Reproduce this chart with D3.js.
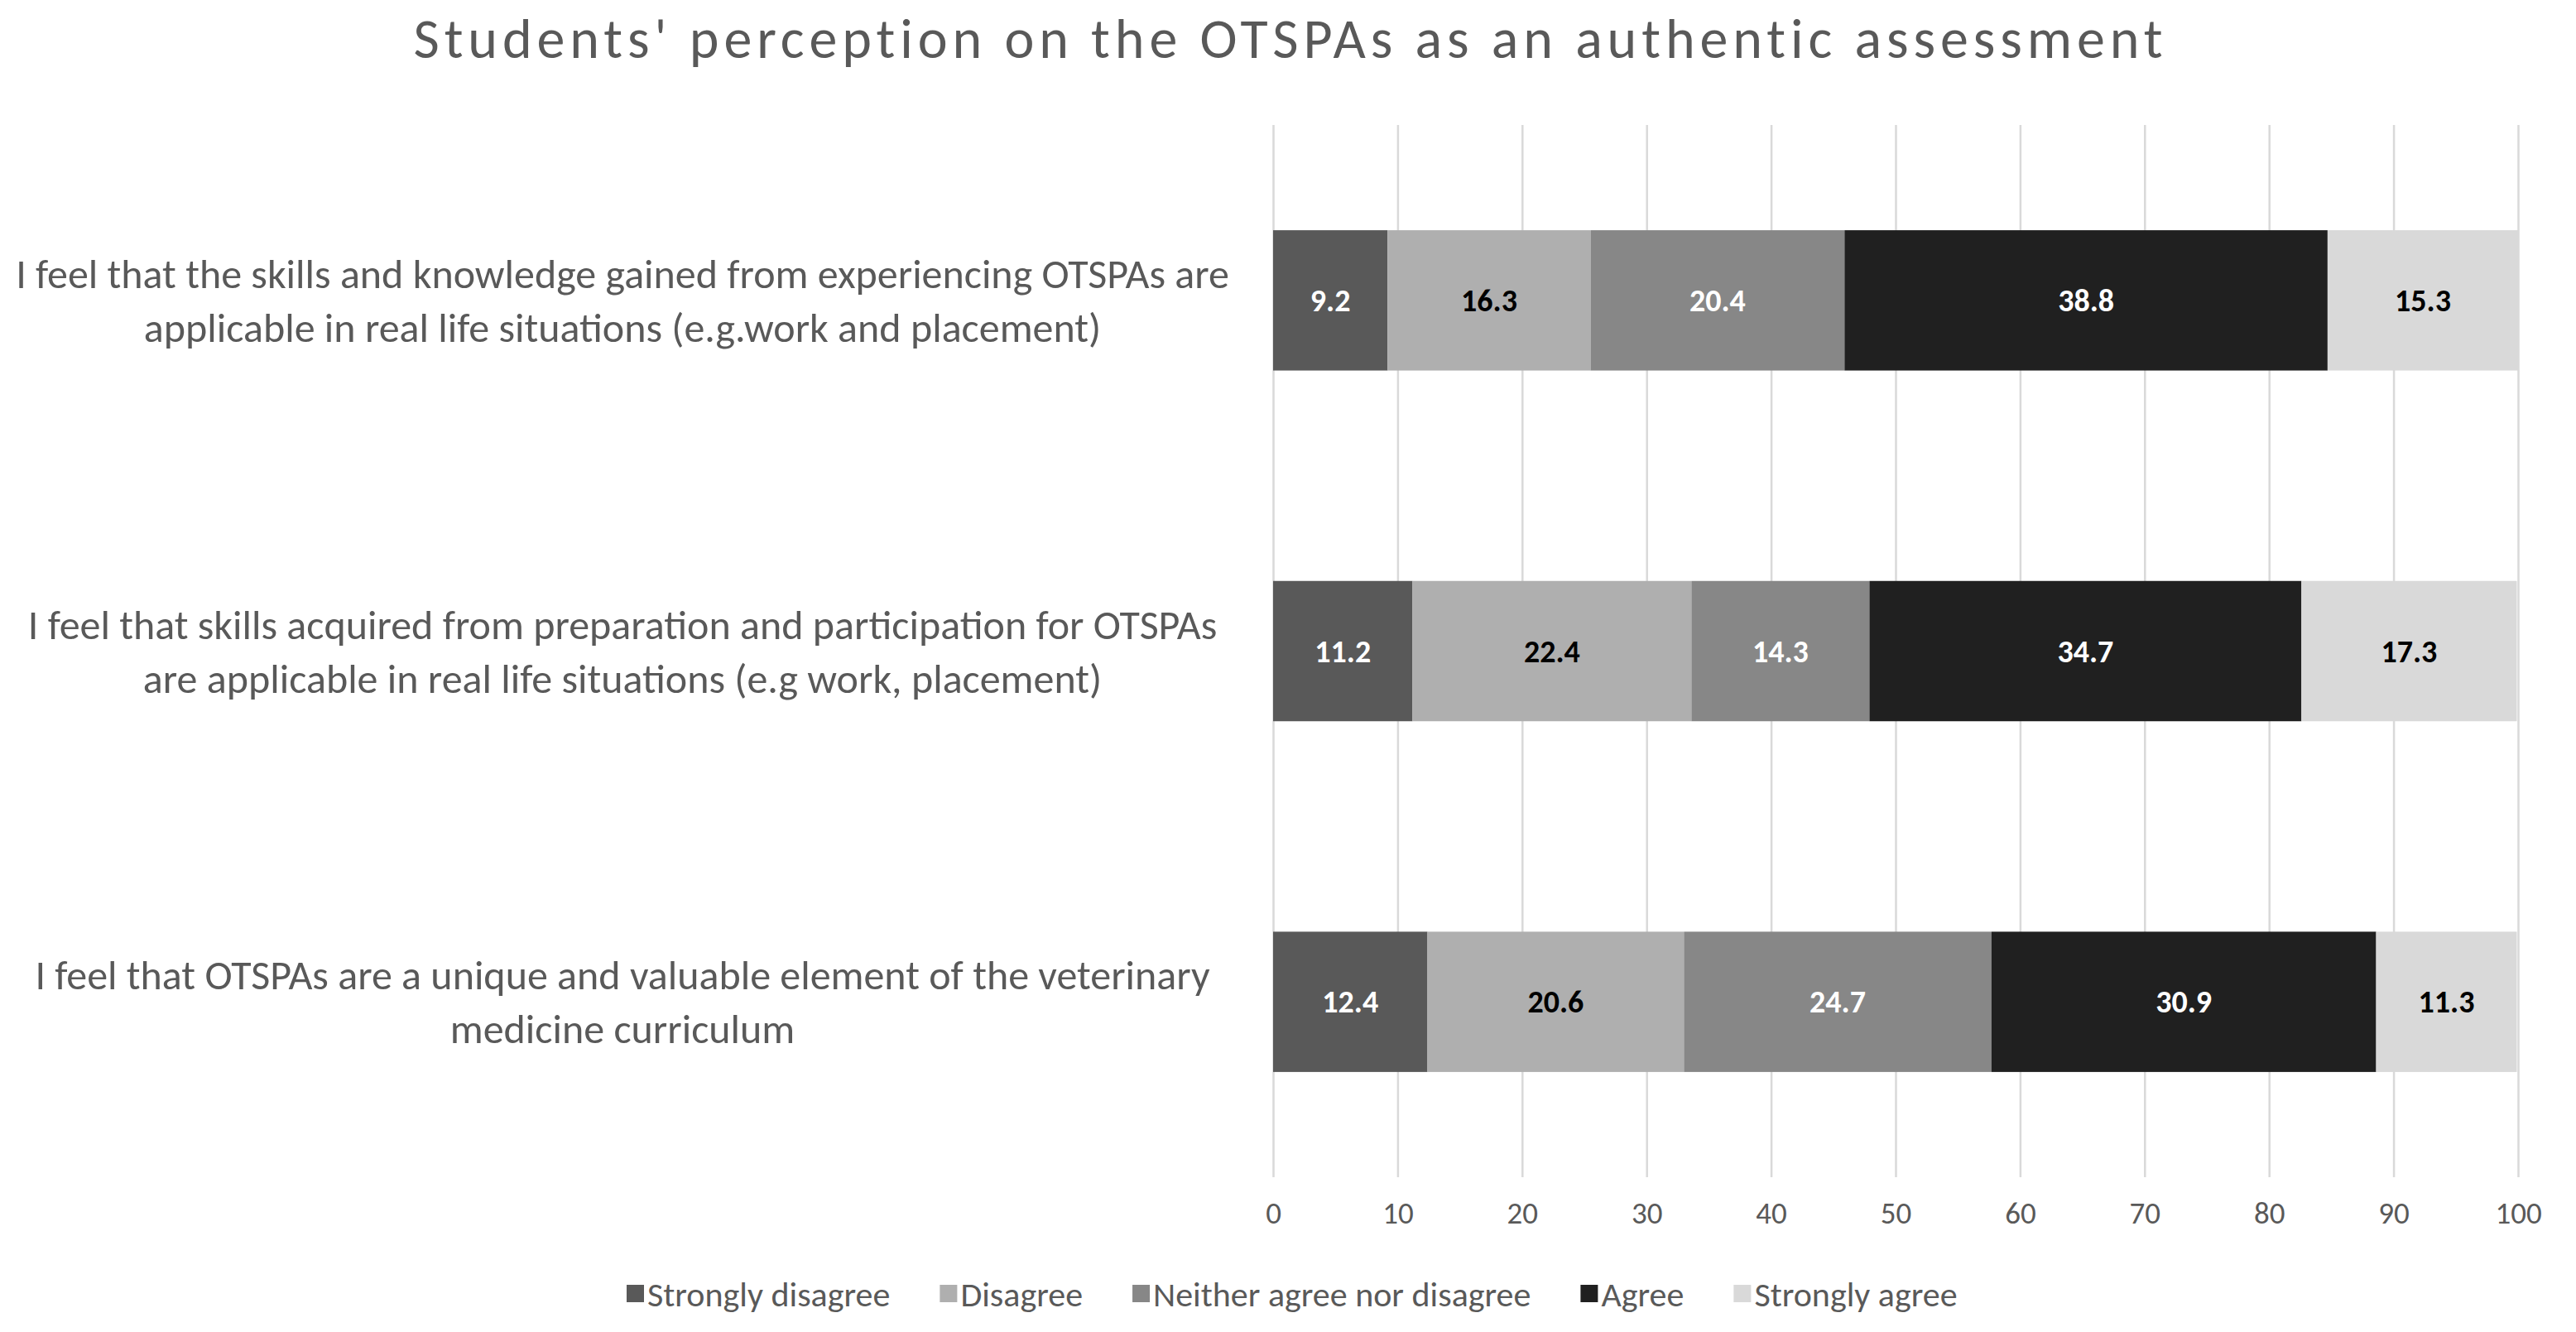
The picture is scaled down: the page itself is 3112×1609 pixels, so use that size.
<!DOCTYPE html>
<html><head><meta charset="utf-8">
<script src="https://cdn.jsdelivr.net/npm/d3@7"></script>
<style>
html,body{margin:0;padding:0;background:#fff;}
svg{display:block;font-family:Carlito,Calibri,Lato,sans-serif;}
</style></head>
<body><svg id="c" width="3112" height="1609"></svg>
<script>
const title = "Students' perception on the OTSPAs as an authentic assessment";
const categories = [
  ["I feel that the skills and knowledge gained from experiencing OTSPAs are", "applicable in real life situations (e.g.work and placement)"],
  ["I feel that skills acquired from preparation and participation for OTSPAs", "are applicable in real life situations (e.g work, placement)"],
  ["I feel that OTSPAs are a unique and valuable element of the veterinary", "medicine curriculum"]
];
const seriesNames = ["Strongly disagree", "Disagree", "Neither agree nor disagree", "Agree", "Strongly agree"];
const stronglyDisagree = [9.2, 11.2, 12.4];
const disagree = [16.3, 22.4, 20.6];
const neither = [20.4, 14.3, 24.7];
const agree = [38.8, 34.7, 30.9];
const stronglyAgree = [15.3, 17.3, 11.3];
const xTicks = [0,10,20,30,40,50,60,70,80,90,100];

const seriesValues = [stronglyDisagree, disagree, neither, agree, stronglyAgree];
const colors = ["#595959", "#afafaf", "#878787", "#202020", "#d9d9d9"];
const labelColors = ["#ffffff", "#000000", "#ffffff", "#ffffff", "#000000"];

const svg = d3.select("#c");
const W = 3112, H = 1609;
const x = d3.scaleLinear().domain([0,100]).range([1538, 3042]);
const catIdx = categories.map((d,i)=>i);
const y = d3.scaleBand().domain(catIdx).range([151, 1422]).paddingInner(0.6).paddingOuter(0.3);

// gridlines
svg.append("g").attr("transform", "translate(0,151)")
  .call(d3.axisTop(x).tickValues(xTicks).tickSize(-(1422-151)).tickFormat(""))
  .call(g => g.select(".domain").remove())
  .call(g => g.selectAll("line").attr("stroke", "#d9d9d9").attr("stroke-width", 2.5));

// tick labels
svg.append("g").attr("transform", "translate(0,1422)")
  .call(d3.axisBottom(x).tickValues(xTicks).tickSize(0).tickPadding(56))
  .call(g => g.select(".domain").remove())
  .call(g => g.selectAll("text").attr("fill", "#595959").attr("font-size", 37)
     .attr("font-family", "Carlito,Calibri,Lato,sans-serif").attr("dy", "0"));

// stacked
const table = categories.map((c,i)=>{ const o={cat:i}; seriesNames.forEach((s,j)=>o[s]=seriesValues[j][i]); return o; });
const stack = d3.stack().keys(seriesNames)(table);
const layers = svg.append("g").selectAll("g").data(stack).join("g")
  .attr("fill", (d,i)=>colors[i]);
layers.selectAll("rect").data(d=>d).join("rect")
  .attr("x", d=>x(d[0])).attr("width", d=>x(d[1])-x(d[0]))
  .attr("y", d=>y(d.data.cat)).attr("height", y.bandwidth());
const lab = svg.append("g").selectAll("g").data(stack).join("g")
  .attr("fill", (d,i)=>labelColors[i]);
lab.selectAll("text").data(d=>d).join("text")
  .attr("x", d=>(x(d[0])+x(d[1]))/2).attr("y", d=>y(d.data.cat)+y.bandwidth()/2)
  .attr("text-anchor","middle").attr("dominant-baseline","central")
  .attr("font-size", 38).attr("font-weight","bold")
  .text(d=>d3.format(".1f")(d[1]-d[0]));

// category labels
const cl = svg.append("g").selectAll("text").data(categories).join("text")
  .attr("text-anchor","middle").attr("fill","#595959").attr("font-size",50);
cl.each(function(lines,i){
  const t=d3.select(this);
  const cy = y(i)+y.bandwidth()/2;
  lines.forEach((ln,k)=>{
    t.append("tspan").attr("x",752).attr("y", cy + (k-(lines.length-1)/2)*65).attr("dominant-baseline","central").text(ln);
  });
});

// title (fit to reference width)
const tt = svg.append("text").attr("x", W/2).attr("y", 70).attr("text-anchor","middle")
  .attr("fill","#595959").attr("font-size",68).text(title);
const tw = tt.node().getComputedTextLength();
const ls = Math.max(0, (2112 - tw)/(title.length-1));
tt.attr("letter-spacing", ls).attr("x", W/2 + ls/2);

// legend
const leg = svg.append("g");
let lx = 757;
const legY = 1563;
seriesNames.forEach((s,i)=>{
  const g = leg.append("g");
  g.append("rect").attr("x", lx).attr("y", legY-11).attr("width",21).attr("height",21).attr("fill",colors[i]);
  const t = g.append("text").attr("x", lx+25).attr("y", legY).attr("dominant-baseline","central")
    .attr("fill","#595959").attr("font-size",42).text(s);
  lx += 25 + t.node().getComputedTextLength() + 60;
});
</script></body></html>
